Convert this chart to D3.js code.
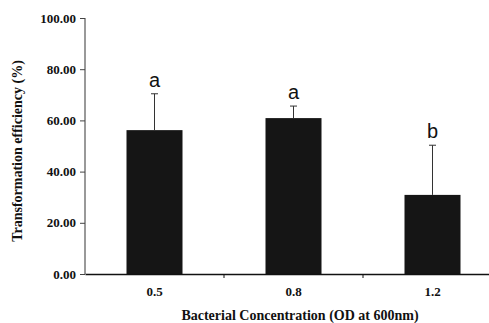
<!DOCTYPE html>
<html>
<head>
<meta charset="utf-8">
<script src="https://cdn.jsdelivr.net/npm/d3@7"></script>
<style>
body { margin: 0; background: #fff; }
.tick text { font-family: "Liberation Serif", "Times New Roman", serif; font-weight: bold; }
</style>
</head>
<body>
<svg class="chart" width="489" height="323"></svg>
<script>
// values
var concentrations = ["0.5", "0.8", "1.2"];
var efficiency = [56.2, 60.9, 30.9];
var errors = [14.2, 4.7, 19.4];
var letters = ["a", "a", "b"];
var yTicks = [0, 20, 40, 60, 80, 100];

var plotLeft = 85, plotTop = 18, plotBottom = 274;

var chart = d3.select(".chart");

var x = d3.scaleBand()
	.domain(concentrations)
	.range([plotLeft, plotLeft + 3 * 139])
	.padding(0);

var y = d3.scaleLinear()
	.domain([0, 100])
	.range([plotBottom, plotTop]);

var barW = 56;

// bars
chart.selectAll(".bar")
	.data(concentrations)
	.enter().append("rect")
	.attr("class", "bar")
	.attr("x", function(d) { return x(d) + x.bandwidth() / 2 - barW / 2; })
	.attr("y", function(d, i) { return y(efficiency[i]); })
	.attr("width", barW)
	.attr("height", function(d, i) { return plotBottom - y(efficiency[i]); })
	.attr("fill", "#151515");

// error bars (upper only)
var err = chart.selectAll(".err")
	.data(concentrations)
	.enter().append("g")
	.attr("class", "err")
	.attr("stroke", "#333")
	.attr("stroke-width", 1);

err.append("line")
	.attr("x1", function(d) { return x(d) + x.bandwidth() / 2; })
	.attr("x2", function(d) { return x(d) + x.bandwidth() / 2; })
	.attr("y1", function(d, i) { return y(efficiency[i]); })
	.attr("y2", function(d, i) { return y(efficiency[i] + errors[i]); });

err.append("line")
	.attr("x1", function(d) { return x(d) + x.bandwidth() / 2 - 3.5; })
	.attr("x2", function(d) { return x(d) + x.bandwidth() / 2 + 3.5; })
	.attr("y1", function(d, i) { return y(efficiency[i] + errors[i]); })
	.attr("y2", function(d, i) { return y(efficiency[i] + errors[i]); });

// significance letters
chart.selectAll(".letter")
	.data(concentrations)
	.enter().append("text")
	.attr("class", "letter")
	.attr("x", function(d) { return x(d) + x.bandwidth() / 2; })
	.attr("y", function(d, i) { return y(efficiency[i] + errors[i]) - 7; })
	.attr("text-anchor", "middle")
	.style("font-family", "Liberation Sans, Arial, sans-serif")
	.style("font-size", "20px")
	.attr("fill", "#111")
	.text(function(d, i) { return letters[i]; });

// y axis
var yAxis = chart.append("g")
	.attr("transform", "translate(" + plotLeft + ",0)")
	.call(d3.axisLeft(y).tickValues(yTicks).tickSize(5).tickPadding(4)
		.tickFormat(d3.format(".2f")));
yAxis.select(".domain").attr("stroke", "#777").attr("stroke-width", 1.5).attr("d", "M0," + plotTop + "V" + plotBottom);
yAxis.selectAll(".tick line").attr("stroke", "#444");
yAxis.selectAll(".tick text").style("font-size", "13px").attr("fill", "#111");

// x axis
var xAxis = chart.append("g")
	.attr("transform", "translate(0," + plotBottom + ")")
	.call(d3.axisBottom(x).tickSize(0).tickPadding(13));
xAxis.select(".domain").attr("stroke", "#111").attr("stroke-width", 1.5);
xAxis.selectAll(".tick text").style("font-size", "13px").attr("fill", "#111");

// ticks between categories
chart.selectAll(".sep")
	.data(concentrations.slice(1))
	.enter().append("line")
	.attr("class", "sep")
	.attr("x1", function(d) { return x(d); })
	.attr("x2", function(d) { return x(d); })
	.attr("y1", plotBottom)
	.attr("y2", plotBottom + 4)
	.attr("stroke", "#111");

// axis titles
chart.append("text")
	.attr("x", 300)
	.attr("y", 320)
	.attr("text-anchor", "middle")
	.style("font-family", "Liberation Serif, Times New Roman, serif")
	.style("font-weight", "bold")
	.style("font-size", "14px")
	.attr("fill", "#111")
	.text("Bacterial Concentration (OD at 600nm)");

chart.append("text")
	.attr("transform", "translate(22,151) rotate(-90)")
	.attr("text-anchor", "middle")
	.style("font-family", "Liberation Serif, Times New Roman, serif")
	.style("font-weight", "bold")
	.style("font-size", "14px")
	.attr("fill", "#111")
	.text("Transformation efficiency (%)");
</script>
</body>
</html>
